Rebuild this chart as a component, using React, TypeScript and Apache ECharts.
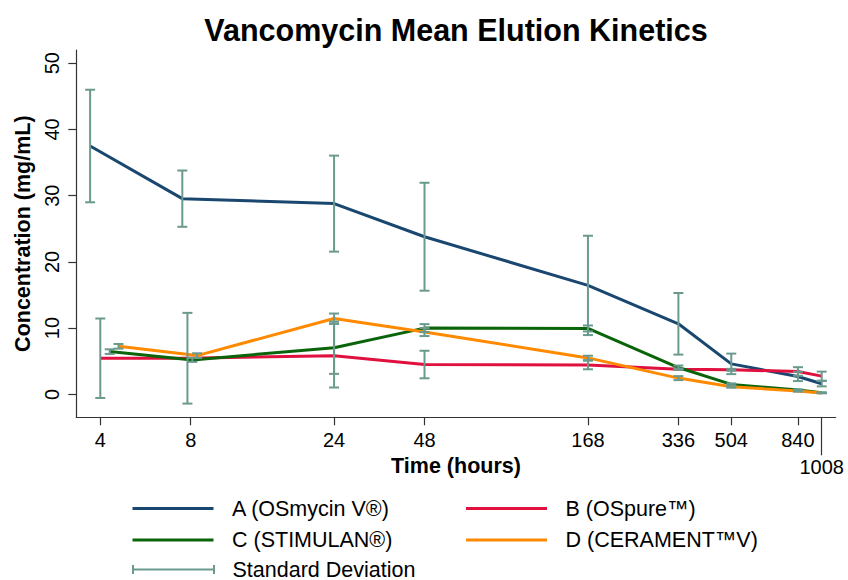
import React, { useEffect, useRef } from "react";
import * as echarts from "echarts";

// ---- Data ----
const hours = [4, 8, 24, 48, 168, 336, 504, 840, 1008];
// plotted sampling times (early points are slightly dodged in the source chart)
const timesA = [3.7, 7.5, 24, 48, 168, 336, 504, 840, 1008];
const timesB = [4.0, 7.8, 24, 48, 168, 336, 504, 840, 1008];
const timesC = [4.3, 8.1, 24, 48, 168, 336, 504, 840, 1008];
const timesD = [4.6, 8.4, 24, 48, 168, 336, 504, 840, 1008];

const meanA = [37.5, 29.55, 28.8, 23.8, 16.45, 10.65, 4.6, 2.7, 1.6];
const sdA = [8.5, 4.25, 7.25, 8.15, 7.5, 4.65, 1.55, 0.7, 0.4];
const meanB = [5.45, 5.45, 5.83, 4.5, 4.43, 3.8, 3.7, 3.45, 2.75];
const sdB = [6.0, 6.85, 4.8, 2.08, 0.65, 0.1, 0.15, 0.65, 0.68];
const meanC = [6.45, 5.2, 7.04, 10.0, 9.95, 4.05, 1.5, 0.65, 0.25];
const sdC = [0.35, 0.3, 3.95, 0.6, 0.45, 0.3, 0.15, 0.1, 0.05];
const meanD = [7.25, 5.85, 11.45, 9.4, 5.5, 2.45, 1.15, 0.5, 0.2];
const sdD = [0.35, 0.35, 0.75, 0.6, 0.33, 0.3, 0.15, 0.1, 0.05];

const yTicks = [0, 10, 20, 30, 40, 50];
const xTicksMain = hours.slice(0, 8);
const xTicksLow = hours.slice(8);

const names = [
  "A (OSmycin V®)",
  "B (OSpure™)",
  "C (STIMULAN®)",
  "D (CERAMENT™V)",
];
const sdName = "Standard Deviation";

const colors = ["#1a476f", "#e0103f", "#0a640a", "#ff8a00"];
const sdColor = "#6a9a8e";
const FONT = "'Liberation Sans', Arial, Helvetica, sans-serif";

const lg = Math.log10;

export default function App() {
  const ref = useRef<HTMLDivElement>(null);

  useEffect(() => {
    if (!ref.current) return;
    const chart = echarts.init(ref.current, undefined, { renderer: "svg" });

    const groups = [
      { t: timesA, m: meanA, s: sdA },
      { t: timesB, m: meanB, s: sdB },
      { t: timesC, m: meanC, s: sdC },
      { t: timesD, m: meanD, s: sdD },
    ];

    const lineSeries = groups.map((g, k) => ({
      name: names[k],
      type: "line",
      xAxisIndex: 0,
      yAxisIndex: 0,
      symbol: "none",
      lineStyle: { color: colors[k], width: 3 },
      itemStyle: { color: colors[k] },
      data: g.t.map((t, i) => [lg(t), g.m[i]]),
      z: 2 + k * 0.1,
    }));

    const errData: number[][] = [];
    groups.forEach((g) => {
      g.t.forEach((t, i) => {
        errData.push([lg(t), g.m[i] - g.s[i], g.m[i] + g.s[i]]);
      });
    });

    const xMin = lg(3.328);
    const xMax = lg(1122);

    const axisLineStyle = { color: "#333", width: 1.2 };

    const legendBase = (name: string, left: number, top: number, isSd = false) => ({
      data: [
        isSd
          ? {
              name,
              icon: "path://M0,0h2v9h-2zM0,3.5h83v2h-83zM81,0h2v9h-2z",
              itemStyle: { color: sdColor },
            }
          : {
              name,
              icon: "rect",
              itemStyle: { color: colors[names.indexOf(name)] },
            },
      ],
      left,
      top,
      itemWidth: isSd ? 83 : 81,
      itemHeight: isSd ? 9 : 3,
      padding: 0,
      selectedMode: false,
      textStyle: {
        fontFamily: FONT,
        fontSize: 21.5,
        lineHeight: 21,
        color: "#000",
        padding: [0, 0, 0, isSd ? 12.5 : 13.5],
      },
    });

    chart.setOption({
      animation: false,
      backgroundColor: "#fff",
      title: {
        text: "Vancomycin Mean Elution Kinetics",
        left: 451,
        top: 9,
        textAlign: "center",
        textStyle: { fontFamily: FONT, fontSize: 30.5, fontWeight: "bold", color: "#000" },
      },
      legend: [
        legendBase(names[0], 132.5, 497.5),
        legendBase(names[1], 466, 497.5),
        legendBase(names[2], 132.5, 529),
        legendBase(names[3], 466, 529),
        legendBase(sdName, 132, 558.5, true),
      ],
      grid: { left: 76.3, right: 12.3, top: 50, bottom: 162.7, containLabel: false },
      xAxis: [
        {
          type: "value",
          min: xMin,
          max: xMax,
          position: "bottom",
          name: "Time (hours)",
          nameLocation: "middle",
          nameGap: 34,
          nameTextStyle: { fontFamily: FONT, fontSize: 21.5, fontWeight: "bold", color: "#000" },
          axisLine: { show: true, onZero: false, lineStyle: axisLineStyle },
          axisTick: {
            show: true,
            length: 8,
            lineStyle: axisLineStyle,
            customValues: xTicksMain.map(lg),
          },
          axisLabel: {
            show: true,
            margin: 13,
            fontFamily: FONT,
            fontSize: 20,
            color: "#000",
            customValues: xTicksMain.map(lg),
            formatter: (v: number) => String(Math.round(Math.pow(10, v))),
          },
          splitLine: { show: false },
        },
        {
          type: "value",
          min: xMin,
          max: xMax,
          position: "bottom",
          axisLine: { show: false, onZero: false },
          axisTick: {
            show: true,
            length: 38,
            lineStyle: axisLineStyle,
            customValues: xTicksLow.map(lg),
          },
          axisLabel: {
            show: true,
            margin: 40,
            fontFamily: FONT,
            fontSize: 20,
            color: "#000",
            customValues: xTicksLow.map(lg),
            formatter: (v: number) => String(Math.round(Math.pow(10, v))),
          },
          splitLine: { show: false },
        },
      ],
      yAxis: {
        type: "value",
        min: -3.47,
        max: 52,
        name: "Concentration (mg/mL)",
        nameLocation: "middle",
        nameGap: 35.5,
        nameTextStyle: { fontFamily: FONT, fontSize: 21.5, fontWeight: "bold", color: "#000" },
        axisLine: { show: true, onZero: false, lineStyle: axisLineStyle },
        axisTick: { show: true, length: 8, lineStyle: axisLineStyle, customValues: yTicks },
        axisLabel: {
          show: true,
          rotate: 90,
          margin: 14.5,
          fontFamily: FONT,
          fontSize: 20,
          color: "#000",
          customValues: yTicks,
        },
        splitLine: { show: false },
      },
      series: [
        ...lineSeries,
        {
          name: sdName,
          type: "custom",
          xAxisIndex: 0,
          yAxisIndex: 0,
          itemStyle: { color: sdColor },
          encode: { x: 0, y: [1, 2] },
          z: 5,
          data: errData,
          renderItem: (params: any, api: any) => {
            const x = api.value(0);
            const lo = api.coord([x, api.value(1)]);
            const hi = api.coord([x, api.value(2)]);
            const hw = 5;
            const st = { stroke: sdColor, lineWidth: 2 };
            return {
              type: "group",
              children: [
                { type: "line", shape: { x1: lo[0], y1: lo[1], x2: hi[0], y2: hi[1] }, style: st },
                { type: "line", shape: { x1: lo[0] - hw, y1: lo[1], x2: lo[0] + hw, y2: lo[1] }, style: st },
                { type: "line", shape: { x1: hi[0] - hw, y1: hi[1], x2: hi[0] + hw, y2: hi[1] }, style: st },
              ],
            };
          },
        },
      ],
    });

    return () => chart.dispose();
  }, []);

  return (
    <div
      ref={ref}
      style={{ position: "absolute", left: 0, top: 0, width: 848, height: 580 }}
    />
  );
}
